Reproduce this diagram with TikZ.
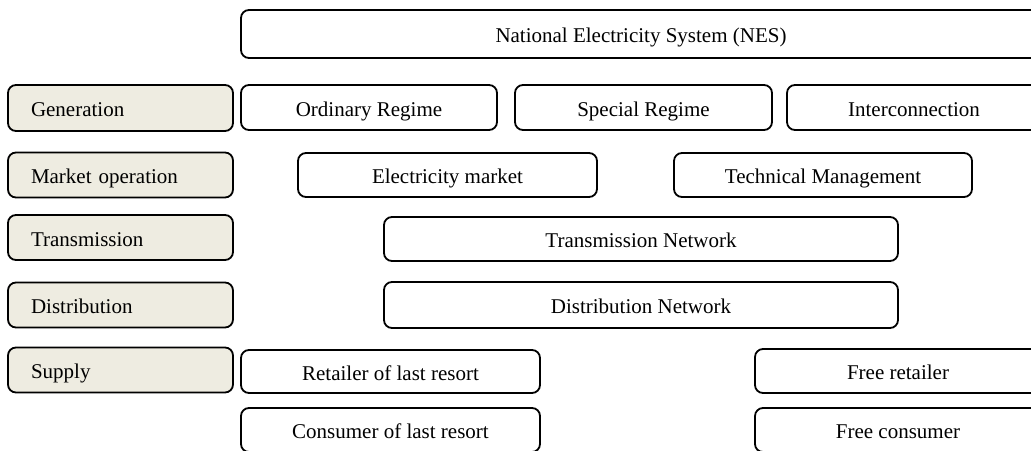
\documentclass[tikz,border=0pt]{standalone}
\usepackage{fontspec}
\setmainfont{Liberation Serif}
\usepackage{tikz}
\definecolor{stagefill}{HTML}{EEECE1}

\begin{document}
\begin{tikzpicture}[x=0.5pt, y=-0.5pt,
  every node/.style = {font=\fontsize{10.5}{12}\selectfont, text height=8.5pt, text depth=0pt},
  unit/.style = {draw, line width=0.9pt, rounded corners=4pt, inner sep=0pt, minimum height=22pt},
  stage/.style = {unit, fill=stagefill, text width=89.5pt, inner xsep=11.5pt, align=left, minimum height=22.5pt}]
\clip (0,0) rectangle (1031,450);
% left column: stages
\node[stage, minimum height=23pt] (gen) at (120.5,108) {Generation};
\node[stage] (mkt) at (120.5,175) {Market operation};
\node[stage] (trn) at (120.5,237.5) {Transmission};
\node[stage] (dst) at (120.5,305) {Distribution};
\node[stage] (sup) at (120.5,370) {Supply};
% right side: agents
\node[unit, minimum width=400pt, minimum height=24pt] (nes) at (641,34) {National Electricity System (NES)};
\node[unit, minimum width=128pt, minimum height=22.5pt] (ord) at (369,107.5) {Ordinary Regime};
\node[unit, minimum width=128.5pt, minimum height=22.5pt] (spec) at (643.5,107.5) {Special Regime};
\node[unit, minimum width=127pt, minimum height=22.5pt] (inter) at (914,107.5) {Interconnection};
\node[unit, minimum width=149.5pt] (elec) at (447.5,175) {Electricity market};
\node[unit, minimum width=149pt] (tech) at (823,175) {Technical Management};
\node[unit, minimum width=257pt] (trans) at (641,239) {Transmission Network};
\node[unit, minimum width=257pt, minimum height=23pt] (dist) at (641,305) {Distribution Network};
\node[unit, minimum width=149.5pt, minimum height=21.5pt] (retl) at (390.5,371.5) {Retailer of last resort};
\node[unit, minimum width=143pt] (freer) at (898,371) {Free retailer};
\node[unit, minimum width=149.5pt] (cons) at (390.5,430) {Consumer of last resort};
\node[unit, minimum width=143pt] (freec) at (898,430) {Free consumer};
\end{tikzpicture}
\end{document}
